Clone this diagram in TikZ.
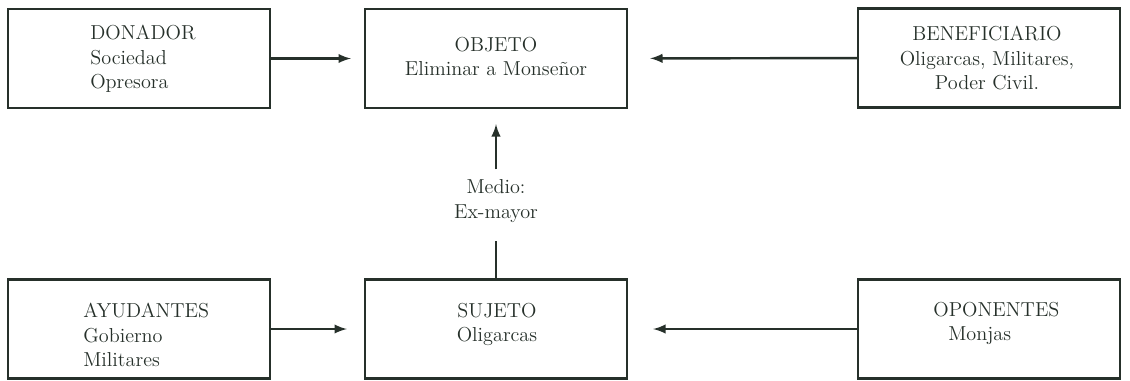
\documentclass[tikz,border=0pt]{standalone}
\usepackage{xcolor}
\tikzset{>=latex}
\definecolor{tinta}{HTML}{26302A}
\tikzset{
  caja/.style={draw=tinta, line width=1.4pt, minimum width=5.24cm, minimum height=1.98cm, inner sep=0pt},
  texto/.style={text=tinta, inner sep=0pt, font=\fontsize{11.5}{13.8}\selectfont},
  flecha/.style={draw=tinta, line width=1.4pt}
}

\begin{document}
\begin{tikzpicture}[x=0.02cm, y=-0.02cm]
    \useasboundingbox (0,0) rectangle (1130,380);

    % cajas
    \node[caja] (donador) at (139,58.5) {};
    \node[caja] (objeto) at (496,58.5) {};
    \node[caja] (beneficiario) at (989,58) {};
    \node[caja] (ayudantes) at (139,329) {};
    \node[caja] (sujeto) at (496,329) {};
    \node[caja] (oponentes) at (989,329) {};

    % textos
    \node[texto, anchor=north west, align=left] (tdonador) at (90,25) {DONADOR\\Sociedad\\Opresora};
    \node[texto, anchor=north, align=center] (tobjeto) at (496,37) {OBJETO\\Eliminar a Monse\~nor};
    \node[texto, anchor=north, align=center] (tbeneficiario) at (987,26) {BENEFICIARIO\\Oligarcas, Militares,\\Poder Civil.};
    \node[texto, anchor=north west, align=left] (tayudantes) at (83,303) {AYUDANTES\\Gobierno\\Militares};
    \node[texto, anchor=north, align=center] (tsujeto) at (497,303) {SUJETO\\Oligarcas};
    \node[texto, anchor=north west, align=left] (toponentes) at (933,302) {OPONENTES\\\hspace*{0.3cm}Monjas};
    \node[texto, inner sep=0.2cm, align=center] (medio) at (496,201) {Medio:\\Ex-mayor};

    % conectores
    \draw[flecha, ->, shorten >=0.26cm] (donador) -- (objeto);
    \draw[flecha, ->, shorten >=0.44cm] (beneficiario) -- (objeto);
    \draw[flecha, ->, shorten >=0.34cm] (ayudantes) -- (sujeto);
    \draw[flecha, ->, shorten >=0.5cm] (oponentes) -- (sujeto);
    \draw[flecha, shorten >=0.16cm] (sujeto) -- (medio);
    \draw[flecha, ->, shorten >=0.3cm] (medio) -- (objeto);

\end{tikzpicture}
\end{document}
